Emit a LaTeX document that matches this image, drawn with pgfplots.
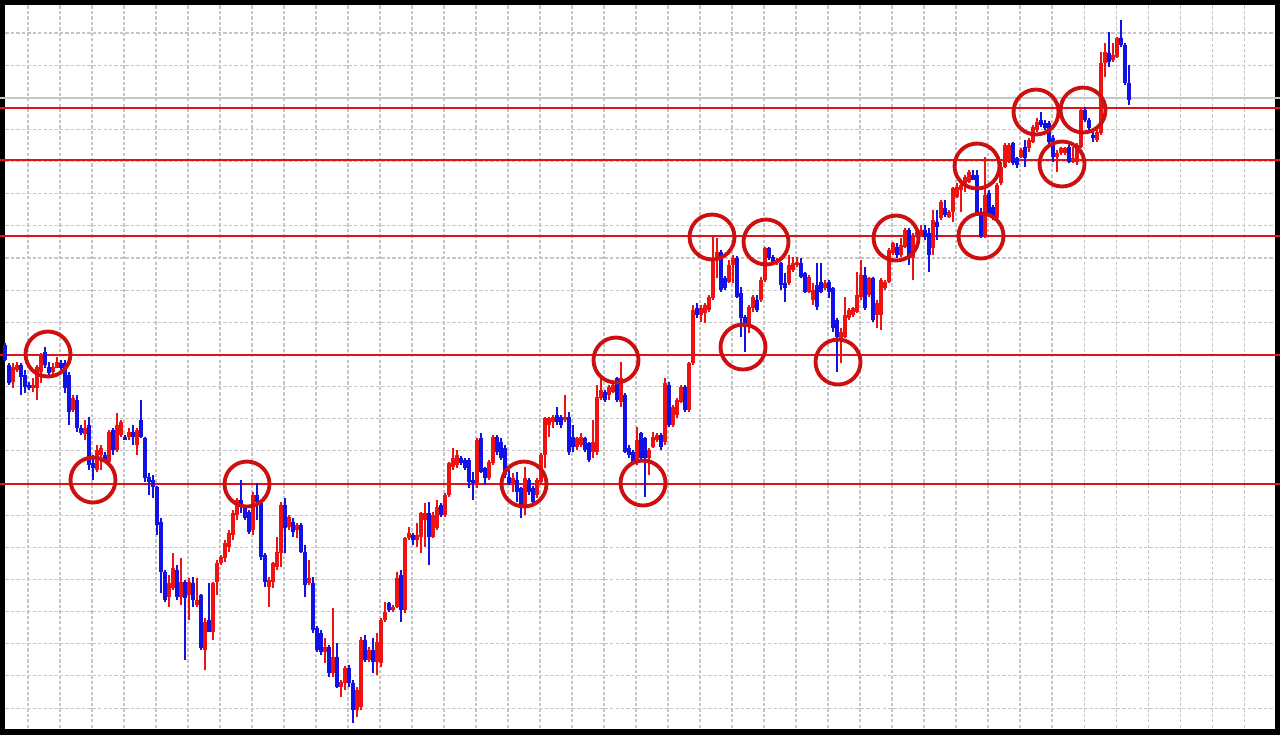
\documentclass[border=0pt]{standalone}
\usepackage{pgfplots}
\usepackage{pgfplotstable}
\pgfplotsset{compat=1.18}

\definecolor{upred}{RGB}{238,18,18}
\definecolor{dnblue}{RGB}{18,18,230}
\definecolor{lvl}{RGB}{222,20,20}
\definecolor{ring}{RGB}{205,15,15}
\definecolor{gridc}{RGB}{198,198,198}

% candles: x (px), open, high, low, close -- price read as screen rows (axis is reversed)
\pgfplotstableread{
x o h l c
5 345 343 361 360
9 365 363 385 383
13 382 363 388 367
17 370 362 372 365
21 365 363 395 377
25 375 370 393 387
29 385 382 390 388
33 388 378 392 385
37 388 365 400 367
41 372 353 383 355
45 352 347 368 365
49 367 362 377 373
53 372 363 375 367
57 368 357 368 362
61 363 360 370 368
65 363 360 393 388
69 375 372 425 412
73 410 395 412 398
77 400 395 432 428
81 428 425 435 433
85 434 420 440 428
89 425 417 470 465
93 463 455 480 468
97 470 445 472 450
101 455 445 470 448
105 455 452 463 460
109 462 430 465 432
113 430 428 455 450
117 450 413 452 425
121 435 420 437 422
125 437 435 440 440
129 437 428 440 432
133 432 425 445 437
137 445 428 455 430
141 420 400 438 437
145 438 437 482 478
149 477 473 495 482
153 480 475 498 487
157 487 486 535 525
161 522 518 593 572
165 572 570 602 600
169 597 575 607 583
173 588 553 590 568
177 570 565 600 597
181 597 558 605 582
185 582 580 660 598
189 595 578 620 582
193 583 577 607 600
197 605 578 607 600
201 595 594 650 648
205 650 618 670 622
209 620 583 632 632
213 632 582 640 583
217 582 560 595 563
221 563 555 565 557
225 558 540 562 543
229 547 530 552 533
233 535 510 540 513
237 515 498 520 500
241 500 480 513 506
245 508 506 520 518
249 512 510 534 532
253 530 492 535 495
257 495 483 520 502
261 503 501 560 557
265 555 553 587 582
269 587 577 607 580
273 582 562 588 563
277 567 537 570 552
281 553 502 567 505
285 505 498 553 528
289 527 515 530 517
293 522 518 537 532
297 530 523 538 525
301 525 523 553 552
305 552 545 597 585
309 583 560 585 578
313 583 577 633 630
317 628 626 652 650
321 633 630 655 652
325 652 638 663 647
329 647 645 677 673
333 673 608 677 657
337 657 643 688 687
341 687 680 697 682
345 683 666 690 668
349 668 665 687 683
353 683 680 723 710
357 710 687 717 690
361 707 637 710 640
365 640 635 662 660
369 660 647 662 650
373 650 638 673 662
377 662 633 675 642
381 663 618 667 620
385 620 602 622 612
389 603 602 612 610
393 610 605 612 607
397 607 572 608 578
401 575 570 622 610
405 610 537 613 538
409 538 527 540 533
413 535 533 545 540
417 540 523 547 535
421 537 512 553 513
425 520 503 547 513
429 513 502 565 537
433 537 512 538 515
437 528 500 530 507
441 505 503 517 515
445 515 493 517 495
449 495 462 497 463
453 467 448 470 458
457 465 450 468 455
461 458 456 465 463
465 460 458 470 468
469 460 458 488 482
473 480 472 500 483
477 483 438 488 440
481 438 433 473 472
485 468 467 485 478
489 478 460 480 462
493 463 435 465 437
497 437 435 455 452
501 442 438 460 458
505 448 445 478 475
509 477 470 485 483
513 483 473 492 478
517 480 472 502 492
521 488 487 518 508
525 507 467 515 478
529 480 478 495 492
533 488 486 503 502
537 495 478 498 480
541 482 453 485 455
545 455 417 468 418
549 425 417 437 418
553 422 415 428 417
557 415 407 425 422
561 417 415 428 425
565 420 395 422 417
569 417 412 455 452
573 437 425 452 447
577 447 437 450 438
581 445 433 447 437
585 438 437 452 450
589 443 442 462 460
593 452 420 458 442
597 452 385 455 397
601 398 377 400 390
605 392 390 402 400
609 395 385 400 387
613 392 383 393 385
617 378 377 402 400
621 402 362 407 378
625 395 393 453 452
629 448 445 458 455
633 452 450 465 463
637 462 427 465 440
641 433 432 460 458
645 438 437 497 458
649 458 448 475 450
653 447 432 448 437
657 440 433 442 435
661 435 433 450 447
665 442 378 445 383
669 385 382 427 425
673 425 405 427 407
677 415 398 418 400
681 402 385 403 387
685 387 385 412 410
689 410 362 412 363
693 363 305 365 310
697 308 303 318 315
701 315 305 322 308
705 313 303 323 305
709 310 295 312 297
713 298 237 300 260
717 260 238 278 252
721 252 250 292 290
725 278 276 290 288
729 282 260 283 265
733 265 255 283 258
737 258 256 298 297
741 293 287 337 318
745 317 315 352 327
749 327 305 333 307
753 308 295 312 297
757 300 295 312 310
761 300 277 302 280
765 280 247 282 248
769 248 247 260 258
773 257 255 263 262
777 263 258 265 260
781 263 262 290 285
785 283 273 302 288
789 283 255 285 265
793 270 257 272 263
797 265 257 267 262
801 263 258 278 277
805 273 272 293 292
809 292 275 293 277
813 300 283 305 290
817 285 263 310 307
821 282 263 293 292
825 288 280 290 283
829 282 280 298 292
833 288 287 332 328
837 320 318 372 337
841 338 328 363 332
845 337 297 338 315
849 318 308 320 310
853 315 307 317 308
857 312 272 313 295
861 297 260 300 275
865 275 267 310 308
869 295 277 297 278
873 278 277 322 320
877 315 300 328 303
881 315 278 330 280
885 288 280 290 282
889 282 248 283 250
893 253 242 255 243
897 247 243 258 255
901 255 238 257 245
905 247 228 248 230
909 230 228 265 255
913 258 233 280 237
917 237 228 238 232
921 235 225 237 230
925 230 225 240 237
929 233 228 272 255
933 248 210 255 220
937 222 210 240 227
941 218 200 220 202
945 208 200 217 215
949 217 210 218 212
953 212 187 222 188
957 197 183 198 187
961 190 183 212 185
965 185 175 192 177
969 182 170 183 172
973 175 170 180 180
977 175 170 215 213
981 213 208 238 237
985 237 157 238 195
989 193 190 217 215
993 207 205 220 217
997 218 183 220 185
1001 183 162 185 167
1005 167 143 168 145
1009 162 143 163 145
1013 143 142 165 163
1017 158 157 168 165
1021 157 148 158 150
1025 147 140 167 158
1029 148 138 152 140
1033 142 125 143 127
1037 130 118 132 122
1041 120 112 127 125
1045 123 120 130 128
1049 123 121 145 142
1053 138 135 162 157
1057 157 150 172 153
1061 153 147 155 148
1065 153 147 155 148
1069 147 145 163 162
1073 162 147 163 158
1077 162 143 165 145
1081 147 108 148 110
1085 110 107 122 120
1089 120 118 132 128
1093 135 130 142 138
1097 140 130 142 132
1101 133 52 135 63
1105 63 43 77 52
1109 53 32 67 62
1113 60 43 62 55
1117 57 37 58 38
1121 38 20 47 45
1125 45 43 85 83
1129 83 65 105 100
}\candles

\begin{document}
\begin{tikzpicture}
\begin{axis}[
  width=12.8cm, height=7.34cm, scale only axis,
  xmin=0, xmax=1280, ymin=0, ymax=734, y dir=reverse,
  xtick={28,60,...,1244},
  ytick={33,65.1,97.3,129.4,161.6,193.7,225.9,258,290.1,322.3,354.4,386.6,418.7,450.9,483,515.1,547.3,579.4,611.6,643.7,675.9,708},
  xticklabels={}, yticklabels={},
  tick style={draw=none},
  grid=major,
  grid style={gridc, line width=0.3pt, dash pattern=on 0.95pt off 0.6pt},
  axis line style={black, line width=2.6pt},
  unbounded coords=discard,
]
% current price line
\addplot[gray!45, line width=0.35pt] coordinates {(0,98) (1280,98)};

% horizontal levels
\addplot[lvl, line width=0.42pt] coordinates {(0,108) (1280,108)};
\addplot[lvl, line width=0.42pt] coordinates {(0,160) (1280,160)};
\addplot[lvl, line width=0.42pt] coordinates {(0,236) (1280,236)};
\addplot[lvl, line width=0.42pt] coordinates {(0,355) (1280,355)};
\addplot[lvl, line width=0.42pt] coordinates {(0,484) (1280,484)};

% up candles (red): wicks then bodies
\addplot[upred, line width=0.35pt, no markers,
  restrict expr to domain={\thisrow{o}-\thisrow{c}}{0:1000},
  quiver={u=0, v=\thisrow{l}-\thisrow{h}}]
  table[x=x, y=h] {\candles};
\addplot[upred, line width=1.05pt, no markers,
  restrict expr to domain={\thisrow{o}-\thisrow{c}}{0:1000},
  quiver={u=0, v=\thisrow{c}-\thisrow{o}}]
  table[x=x, y=o] {\candles};

% down candles (blue)
\addplot[dnblue, line width=0.35pt, no markers,
  restrict expr to domain={\thisrow{c}-\thisrow{o}}{0:1000},
  quiver={u=0, v=\thisrow{l}-\thisrow{h}}]
  table[x=x, y=h] {\candles};
\addplot[dnblue, line width=1.05pt, no markers,
  restrict expr to domain={\thisrow{c}-\thisrow{o}}{0:1000},
  quiver={u=0, v=\thisrow{c}-\thisrow{o}}]
  table[x=x, y=o] {\candles};

% touch points
\addplot[only marks, mark=o, mark size=6.4pt,
  mark options={draw=ring, line width=1.1pt}] coordinates {
  (48,354) (93,480) (247,484) (524,484) (616,360) (643,483)
  (712,237) (743,347) (766,242) (838,362) (896,238)
  (977,166) (981,236) (1036,112) (1062,164) (1083,110)};

\coordinate (sw) at (rel axis cs:0,0);
\coordinate (ne) at (rel axis cs:1,1);
\end{axis}
\pgfresetboundingbox
\useasboundingbox (sw) rectangle (ne);
\end{tikzpicture}
\end{document}
